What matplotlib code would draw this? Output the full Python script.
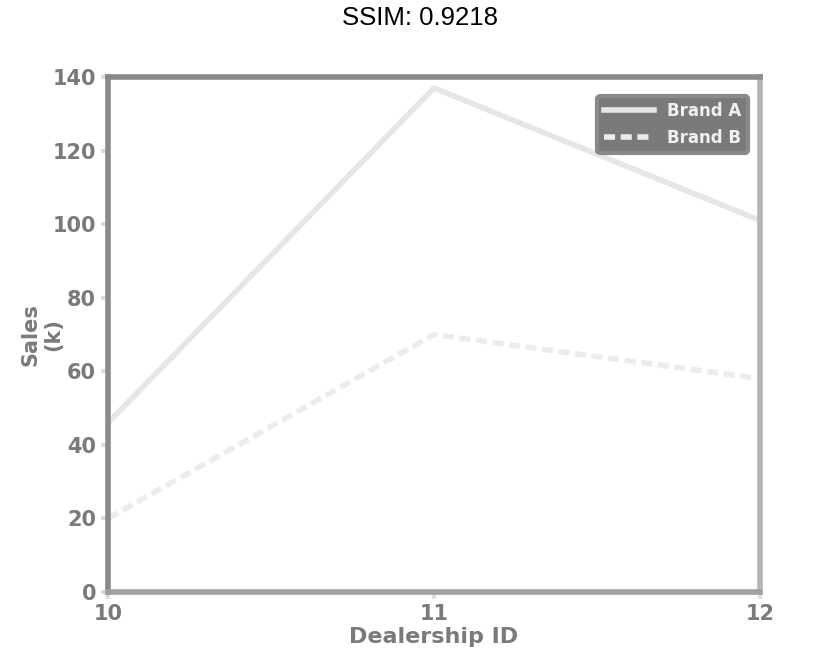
import matplotlib
matplotlib.use("Agg")
import matplotlib.pyplot as plt

dealers = [10, 11, 12]
series_a = [46, 137, 101]
series_b = [20, 70, 58]
labels = ["Brand A", "Brand B"]
yticks = [0, 20, 40, 60, 80, 100, 120, 140]

fig = plt.figure(figsize=(8.4, 6.64), dpi=100)
ax = fig.add_axes([108/840, 1-592/664, (760-108)/840, (592-77)/664])

ax.plot(dealers, series_a, color="#e6e6e6", lw=4, label=labels[0])
ax.plot(dealers, series_b, color="#ececec", lw=4, ls=(0, (2, 1)), label=labels[1])

ax.set_xlim(10, 12)
ax.set_ylim(0, 140)
ax.set_xticks(dealers)
ax.set_yticks(yticks)
tc = "#7a7a7a"
ax.tick_params(colors="#dddddd", labelcolor=tc, labelsize=15, width=3, length=5)
for lab in ax.get_xticklabels() + ax.get_yticklabels():
    lab.set_fontweight("bold")
for s in ax.spines.values():
    s.set_color("#8a8a8a")
    s.set_linewidth(4)
ax.spines["bottom"].set_color("#a0a0a0")
ax.spines["right"].set_color("#b5b5b5")
ax.set_xlabel("Dealership ID", fontsize=16, fontweight="bold", color=tc, labelpad=2)
ax.set_ylabel("Sales\n(k)", fontsize=15, fontweight="bold", color=tc)
ax.yaxis.set_label_coords(-0.068, 0.5)

leg = ax.legend(loc="upper right", fontsize=12, facecolor="#7a7a7a",
                edgecolor="#8a8a8a", framealpha=1, handlelength=3,
                bbox_to_anchor=(0.995, 0.98))
for t in leg.get_texts():
    t.set_color("#f0f0f0")
    t.set_fontweight("bold")
leg.get_frame().set_linewidth(3)

fig.suptitle("SSIM: 0.9218", y=1-18/664, va="center", fontsize=18.5, color="black",
             family=["Liberation Sans", "DejaVu Sans"])
fig.savefig("out.png", dpi=100)
